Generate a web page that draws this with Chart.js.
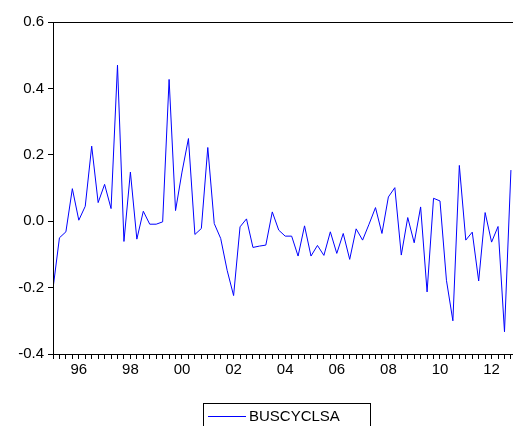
<!DOCTYPE html>
<html><head><meta charset="utf-8">
<script src="https://cdn.jsdelivr.net/npm/chart.js@4"></script>
<style>html,body{margin:0;padding:0;background:#fff}#w{width:513px;height:426px}</style>
</head><body><div id="w"><canvas id="c"></canvas></div>
<script>
const startYear = 1995;
const seriesName = "BUSCYCLSA";
const values = [-0.203,-0.050,-0.032,0.098,0.003,0.045,0.226,0.056,0.111,0.038,0.470,-0.061,0.148,-0.054,0.030,-0.009,-0.009,-0.002,0.427,0.032,0.148,0.249,-0.040,-0.022,
0.222,-0.007,-0.052,-0.148,-0.224,-0.017,0.007,-0.079,-0.075,-0.072,0.028,-0.027,-0.045,-0.045,-0.105,-0.014,-0.105,-0.073,-0.103,-0.032,-0.097,-0.037,-0.115,
-0.023,-0.057,-0.009,0.041,-0.037,0.073,0.101,-0.102,0.011,-0.065,0.043,-0.213,0.069,0.061,-0.178,-0.300,0.168,-0.057,-0.033,-0.180,0.026,-0.063,-0.016,-0.333,0.154];
const yTicks = [-0.4,-0.2,0.0,0.2,0.4,0.6];
const pts = values.map((v,i)=>({x:startYear+i/4,y:v}));
const FONT = {family:'Liberation Sans, Arial',size:15};
const deco = {id:'deco',afterDraw(ch){const c=ch.ctx;c.save();c.strokeStyle='#000';c.lineWidth=1;
 const a=ch.chartArea;c.strokeRect(a.left+0.5,a.top+0.5,a.right-a.left,a.bottom-a.top);
 c.strokeRect(203.5,403.5,167,30);
 c.strokeStyle='#0000ff';c.beginPath();c.moveTo(208,416.5);c.lineTo(246,416.5);c.stroke();
 c.fillStyle='#000';c.font='15px "Liberation Sans", Arial';c.textBaseline='middle';c.fillText(ch.data.datasets[0].label,249,417);
 c.restore();}};
new Chart(document.getElementById('c'),{type:'line',
 data:{datasets:[{label:seriesName,data:pts,borderColor:'#0000ff',borderWidth:1,pointRadius:0,tension:0,fill:false}]},
 options:{animation:false,responsive:true,maintainAspectRatio:false,
  layout:{padding:{top:22,right:0,left:0,bottom:46}},
  plugins:{tooltip:{enabled:false},legend:{display:false}},
  scales:{
   x:{type:'linear',min:1995,max:2012.83,border:{color:'#000'},grid:{display:true,drawOnChartArea:false,color:'#000',tickLength:5},
      afterFit(s){s.height=26;},
      afterBuildTicks(s){const t=[];for(let k=0;k<=71;k++)t.push({value:1995+k/4});s.ticks=t;},
      ticks:{autoSkip:false,maxRotation:0,color:'#000',font:FONT,padding:2,
       callback(v){const y=Math.round(v*4)/4; if(Math.abs(y-Math.round(y))<1e-6 && Math.round(y)%2===0) return String(Math.round(y)%100).padStart(2,'0'); return '';}}},
   y:{min:-0.4,max:0.6,border:{color:'#000'},grid:{display:true,drawOnChartArea:false,color:'#000',tickLength:5},
      afterFit(s){s.width=53;},
      afterBuildTicks(s){s.ticks=yTicks.map(v=>({value:v}));},
      ticks:{color:'#000',font:FONT,padding:4,callback:v=>v.toFixed(1)}}
  }},plugins:[deco]});
</script></body></html>
